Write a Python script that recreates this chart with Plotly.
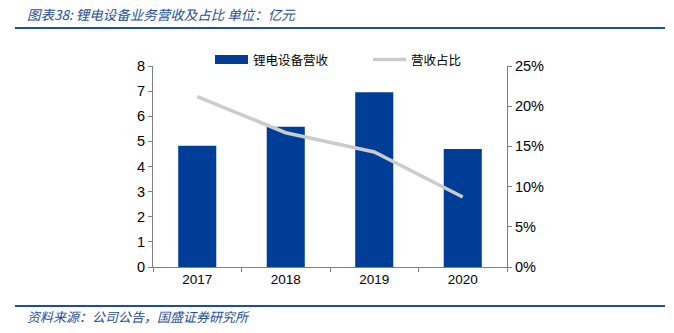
import plotly.graph_objects as go

years = ["2017", "2018", "2019", "2020"]
revenue = [4.83, 5.58, 6.96, 4.70]
share = [0.212, 0.167, 0.143, 0.087]

bar_name = "锂电设备营收"
line_name = "营收占比"
title_text = "图表38: 锂电设备业务营收及占比 单位：亿元"
source_text = "资料来源：公司公告，国盛证券研究所"

BLUE = "#003d96"
GREY = "#cccccc"
AX = "#808080"
FONT = "Noto Sans CJK SC"
TICKFONT = "Liberation Sans"

fig = go.Figure()
fig.add_trace(go.Bar(x=years, y=revenue, name=bar_name, marker=dict(color=BLUE, line=dict(width=0)),
                     width=0.43, yaxis="y"))
fig.add_trace(go.Scatter(x=years, y=share, name=line_name, mode="lines",
                         line=dict(color=GREY, width=3.5), yaxis="y2"))

fig.update_layout(
    width=674, height=333,
    margin=dict(l=153, r=167, t=66, b=66),
    paper_bgcolor="white", plot_bgcolor="white",
    font=dict(family=FONT, size=13, color="#000"),
    showlegend=False,
    bargap=0.57,
    xaxis=dict(type="category", showline=True, linecolor=AX, linewidth=1,
               ticks="outside", ticklen=4, tickcolor=AX, tickson="boundaries",
               tickfont=dict(family=TICKFONT, size=13.5), showgrid=False),
    yaxis=dict(range=[0, 8], dtick=1, showline=True, linecolor=AX, linewidth=1,
               ticks="outside", ticklen=4, tickcolor=AX, showgrid=False, zeroline=False,
               tickfont=dict(family=TICKFONT, size=14.5)),
    yaxis2=dict(range=[0, 0.25], dtick=0.05, tickformat=".0%", overlaying="y", side="right",
                showline=True, linecolor=AX, linewidth=1, ticks="outside", ticklen=4,
                tickcolor=AX, showgrid=False, zeroline=False,
                tickfont=dict(family=TICKFONT, size=14.5)),
)

# legend drawn manually
fig.add_shape(type="rect", xref="paper", yref="paper", x0=(215-153)/354, x1=(248-153)/354,
              y0=(267-55)/201, y1=(267-64)/201, fillcolor=BLUE, line=dict(width=0))
fig.add_annotation(xref="paper", yref="paper", x=(251-153)/354, y=(267-59.5)/201, text=bar_name,
                   showarrow=False, xanchor="left", yanchor="middle", font=dict(size=12.5, family=FONT))
fig.add_shape(type="line", xref="paper", yref="paper", x0=(373-153)/354, x1=(406-153)/354,
              y0=(267-59.5)/201, y1=(267-59.5)/201, line=dict(color=GREY, width=3.5))
fig.add_annotation(xref="paper", yref="paper", x=(409-153)/354, y=(267-59.5)/201, text=line_name,
                   showarrow=False, xanchor="left", yanchor="middle", font=dict(size=12.5, family=FONT))

# title and footer
fig.add_annotation(xref="paper", yref="paper", x=(25-153)/354, y=(267-14)/201,
                   text="<i>" + title_text + "</i>", showarrow=False, xanchor="left", yanchor="middle",
                   font=dict(size=13.5, color="#1f4e9c", family=FONT))
fig.add_shape(type="line", xref="paper", yref="paper", x0=(15-153)/354, x1=(665-153)/354,
              y0=(267-28)/201, y1=(267-28)/201, line=dict(color="#1f4e9c", width=2))
fig.add_shape(type="line", xref="paper", yref="paper", x0=(15-153)/354, x1=(665-153)/354,
              y0=(267-306)/201, y1=(267-306)/201, line=dict(color="#1f4e9c", width=2))
fig.add_annotation(xref="paper", yref="paper", x=(25-153)/354, y=(267-316)/201,
                   text="<i>" + source_text + "</i>", showarrow=False, xanchor="left", yanchor="middle",
                   font=dict(size=13, color="#1f4e9c", family=FONT))

fig.write_html("out.html")
